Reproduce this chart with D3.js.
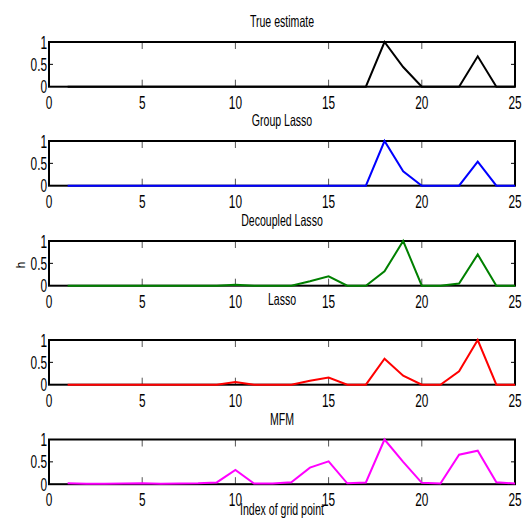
<!DOCTYPE html>
<html>
<head>
<meta charset="utf-8">
<script src="https://cdn.jsdelivr.net/npm/d3@7"></script>
<style>
html,body{margin:0;padding:0;background:#fff;}
svg{display:block;}
</style>
</head>
<body>
<script>
// ---- data ----
const gridIndex = d3.range(1, 26); // 1..25
const xTicks = [0, 5, 10, 15, 20, 25];
const yTicks = [0, 0.5, 1];
const yTickLabels = ["0", "0.5", "1"];
const panelTitles = ["True estimate", "Group Lasso", "Decoupled Lasso", "Lasso", "MFM"];
const seriesColors = ["#000000", "#0000ff", "#008000", "#ff0000", "#ff00ff"];

const trueEstimate = [0,0,0,0,0,0,0,0,0,0,0,0,0,0,0,0,0,1,0.44,0,0,0,0.68,0,0];
const groupLasso   = [0,0,0,0,0,0,0,0,0,0,0,0,0,0,0,0,0,1,0.32,0,0,0,0.54,0,0];
const decoupledLasso=[0,0,0,0,0,0,0,0,0,0.02,0,0,0,0.1,0.21,0,0,0.32,1,0,0,0.05,0.7,0,0];
const lasso        = [0,0,0,0,0,0,0,0,0,0.06,0,0,0,0.09,0.16,0,0,0.58,0.2,0,0,0.3,1,0,0];
const mfm          = [0.02,0.01,0.01,0.015,0.02,0.01,0.015,0.02,0.04,0.32,0.015,0.015,0.045,0.37,0.51,0.02,0.04,1,0.5,0.03,0.015,0.66,0.75,0.045,0.015];

const allSeries = [trueEstimate, groupLasso, decoupledLasso, lasso, mfm];

// ---- layout ----
const W = 526, H = 525;
const left = 49, right = 515;
const panelTops = [42, 141, 241, 340, 439.5];
const panelH = 44.7;
const SX = 0.64;
const FONT = "'Liberation Sans', Arial, Helvetica, sans-serif";

const svg = d3.select("body").append("svg").attr("width", W).attr("height", H);

function label(g, x, y, text, size, anchor, rotate, sx) {
  const s = sx === undefined ? SX : sx;
  const t = g.append("text")
    .attr("transform", `translate(${x},${y})` + (rotate ? ` rotate(${rotate})` : "") + ` scale(${s},1)`)
    .attr("text-anchor", anchor)
    .attr("font-family", FONT)
    .attr("font-size", size)
    .attr("fill", "#000")
    .text(text);
  return t;
}

const x = d3.scaleLinear().domain([0, 25]).range([left, right]);

allSeries.forEach((vals, i) => {
  const top = panelTops[i], bottom = top + panelH;
  const y = d3.scaleLinear().domain([0, 1]).range([bottom, top]);
  const g = svg.append("g");

  // inward ticks (top/bottom)
  const tickCol = "#555";
  const tickX = xTicks.filter(t => t > 0 && t < 25);
  g.selectAll(null).data(tickX).enter().append("line")
    .attr("x1", d => x(d)).attr("x2", d => x(d)).attr("y1", top).attr("y2", top + 7)
    .attr("stroke", tickCol).attr("stroke-width", 1);
  g.selectAll(null).data(tickX).enter().append("line")
    .attr("x1", d => x(d)).attr("x2", d => x(d)).attr("y1", bottom).attr("y2", bottom - 7)
    .attr("stroke", tickCol).attr("stroke-width", 1);
  const tickY = yTicks.filter(t => t > 0 && t < 1);
  g.selectAll(null).data(tickY).enter().append("line")
    .attr("x1", left).attr("x2", left + 4).attr("y1", d => y(d)).attr("y2", d => y(d))
    .attr("stroke", "#000").attr("stroke-width", 1);
  g.selectAll(null).data(tickY).enter().append("line")
    .attr("x1", right).attr("x2", right - 4).attr("y1", d => y(d)).attr("y2", d => y(d))
    .attr("stroke", "#000").attr("stroke-width", 1);

  // box
  g.append("rect").attr("x", left).attr("y", top).attr("width", right - left).attr("height", panelH)
    .attr("fill", "none").attr("stroke", "#000").attr("stroke-width", 2);

  // data line
  const line = d3.line().x((d, j) => x(gridIndex[j])).y(d => y(d));
  g.append("path").datum(vals).attr("d", line)
    .attr("fill", "none").attr("stroke", seriesColors[i]).attr("stroke-width", 2)
    .attr("stroke-linejoin", "miter");

  // x tick labels
  xTicks.forEach(t => label(g, x(t), bottom + 22, String(t), 18.5, "middle"));
  // y tick labels
  yTicks.forEach((t, k) => label(g, left - 2, y(t) + 6.5, yTickLabels[k], 18.5, "end"));

  // title
  const titleY = i === 3 ? top - 35 : top - 15;
  label(g, (left + right) / 2, titleY, panelTitles[i], 16.5, "middle");
});

// y-axis label
label(svg, 24.5, 265, "h", 13, "middle", -90, 0.9);
// x-axis label
label(svg, (left + right) / 2, 515, "Index of grid point", 16.5, "middle");
</script>
</body>
</html>
